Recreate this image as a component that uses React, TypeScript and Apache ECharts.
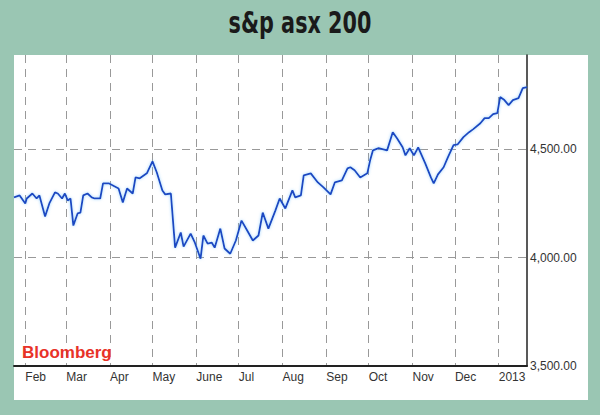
import React, { useEffect, useRef } from "react";
import * as echarts from "echarts";

const pointDates = [
  "2012-01-24", "2012-01-28", "2012-02-01", "2012-02-02", "2012-02-06", "2012-02-09", "2012-02-11",
  "2012-02-15", "2012-02-18", "2012-02-22", "2012-02-24", "2012-02-27", "2012-02-29", "2012-03-02",
  "2012-03-04", "2012-03-06", "2012-03-09", "2012-03-11", "2012-03-13", "2012-03-16", "2012-03-19",
  "2012-03-21", "2012-03-25", "2012-03-27", "2012-03-31", "2012-04-03", "2012-04-07", "2012-04-10",
  "2012-04-13", "2012-04-17", "2012-04-19", "2012-04-22", "2012-04-27", "2012-05-01", "2012-05-04",
  "2012-05-08", "2012-05-10", "2012-05-14", "2012-05-17", "2012-05-21", "2012-05-23", "2012-05-28",
  "2012-05-31", "2012-06-04", "2012-06-06", "2012-06-09", "2012-06-12", "2012-06-14", "2012-06-18",
  "2012-06-21", "2012-06-25", "2012-06-29", "2012-07-03", "2012-07-07", "2012-07-11", "2012-07-15",
  "2012-07-18", "2012-07-22", "2012-07-27", "2012-07-30", "2012-08-03", "2012-08-08", "2012-08-10",
  "2012-08-14", "2012-08-16", "2012-08-21", "2012-08-26", "2012-08-30", "2012-09-04", "2012-09-07",
  "2012-09-12", "2012-09-16", "2012-09-18", "2012-09-21", "2012-09-25", "2012-09-30", "2012-10-02",
  "2012-10-04", "2012-10-08", "2012-10-14", "2012-10-18", "2012-10-21", "2012-10-25", "2012-10-27",
  "2012-10-30", "2012-11-02", "2012-11-05", "2012-11-10", "2012-11-14", "2012-11-16", "2012-11-19",
  "2012-11-23", "2012-11-26", "2012-11-30", "2012-12-03", "2012-12-07", "2012-12-11", "2012-12-14",
  "2012-12-19", "2012-12-22", "2012-12-25", "2012-12-28", "2012-12-31", "2013-01-02", "2013-01-05",
  "2013-01-08", "2013-01-11", "2013-01-15", "2013-01-18", "2013-01-21",
];
const pointValues = [
  4278, 4287, 4250, 4273, 4296, 4273, 4287,
  4190, 4250, 4301, 4296, 4273, 4296, 4264,
  4273, 4148, 4204, 4208, 4287, 4296, 4278,
  4273, 4273, 4343, 4343, 4333, 4319, 4255,
  4319, 4296, 4370, 4366, 4389, 4444, 4394,
  4310, 4292, 4296, 4046, 4116, 4051, 4111,
  4069, 3995, 4102, 4065, 4069, 4046, 4134,
  4042, 4018, 4079, 4171, 4125, 4079, 4102,
  4208, 4134, 4218, 4273, 4227, 4310, 4278,
  4287, 4380, 4389, 4347, 4324, 4292, 4347,
  4356, 4412, 4417, 4403, 4370, 4389, 4449,
  4495, 4505, 4495, 4579, 4551, 4509, 4472,
  4505, 4472, 4509, 4435, 4370, 4343, 4384,
  4417, 4463, 4519, 4523, 4556, 4579, 4593,
  4620, 4644, 4644, 4662, 4667, 4741, 4727,
  4704, 4727, 4736, 4782, 4787,
];
const monthLabels = ["Jan", "Feb", "Mar", "Apr", "May", "June", "Jul", "Aug", "Sep", "Oct", "Nov", "Dec"];
const yTickValues = [3500, 4000, 4500];
const axisStart = "2012-01-24";
const axisEnd = "2013-01-21";
const titleText = "s&p asx 200";
const sourceText = "Bloomberg";

function buildDays(start: string, end: string): string[] {
  const out: string[] = [];
  const d = new Date(start + "T00:00:00Z");
  const e = new Date(end + "T00:00:00Z");
  while (d.getTime() <= e.getTime()) {
    out.push(d.toISOString().slice(0, 10));
    d.setUTCDate(d.getUTCDate() + 1);
  }
  return out;
}

export default function App() {
  const ref = useRef<HTMLDivElement>(null);
  useEffect(() => {
    if (!ref.current) return;
    const chart = echarts.init(ref.current, null, { renderer: "svg" });
    const days = buildDays(axisStart, axisEnd);
    const lookup: Record<string, number> = {};
    pointDates.forEach((d, i) => (lookup[d] = pointValues[i]));
    const seriesData = days.map((d) => (d in lookup ? lookup[d] : null));
    const isMonthStart = (_i: number, v: string) => v.slice(8, 10) === "01";

    chart.setOption({
      animation: false,
      backgroundColor: "#9ac6b3",
      graphic: [
        {
          type: "rect",
          z: -10,
          shape: { x: 14, y: 55, width: 574, height: 345 },
          style: { fill: "#ffffff" },
          silent: true,
        },
        {
          type: "text",
          x: 300,
          y: 7,
          scaleX: 0.67,
          style: {
            text: titleText,
            textAlign: "center",
            textVerticalAlign: "top",
            font: 'bold 31px "DejaVu Sans", sans-serif',
            fill: "#1a1a1a",
          },
        },
        {
          type: "text",
          left: 22,
          top: 344,
          z: 10,
          style: {
            text: sourceText,
            font: 'bold 17px "Liberation Sans", Arial, sans-serif',
            fill: "#e83228",
          },
        },
      ],
      grid: { left: 14, right: 73, top: 55, bottom: 49, containLabel: false },
      xAxis: {
        type: "category",
        data: days,
        boundaryGap: false,
        axisTick: { show: false },
        axisLine: { show: true, lineStyle: { color: "#222", width: 2 } },
        axisLabel: {
          interval: isMonthStart,
          align: "left",
          margin: 5,
          color: "#333",
          fontSize: 12,
          fontFamily: '"Liberation Sans", Arial, sans-serif',
          formatter: (v: string) => {
            const m = +v.slice(5, 7);
            return m === 1 ? v.slice(0, 4) : monthLabels[m - 1];
          },
        },
        splitLine: {
          show: true,
          interval: isMonthStart,
          lineStyle: { color: "#999", width: 1, type: [8, 6] },
        },
      },
      yAxis: {
        type: "value",
        position: "right",
        min: 3500,
        max: 4935,
        interval: 500,
        axisTick: { show: false },
        axisLine: { show: true, lineStyle: { color: "#222", width: 1.5 } },
        axisLabel: {
          margin: 3,
          color: "#333",
          fontSize: 12,
          fontFamily: '"Liberation Sans", Arial, sans-serif',
          padding: [8, 0, 0, 0],
          formatter: (v: number) =>
            yTickValues.includes(v)
              ? v.toLocaleString("en-US", { minimumFractionDigits: 2, maximumFractionDigits: 2 })
              : "",
        },
        splitLine: {
          show: true,
          showMaxLine: false,
          lineStyle: { color: "#999", width: 1, type: [8, 6] },
        },
      },
      series: [
        {
          type: "line",
          data: seriesData,
          connectNulls: true,
          showSymbol: false,
          symbol: "none",
          lineStyle: {
            color: "#1a47c2",
            width: 1.8,
            shadowColor: "rgba(110,190,255,0.7)",
            shadowBlur: 3,
          },
        },
      ],
    });
    return () => chart.dispose();
  }, []);
  return <div ref={ref} style={{ width: 600, height: 415, position: "absolute", left: 0, top: 0 }} />;
}
